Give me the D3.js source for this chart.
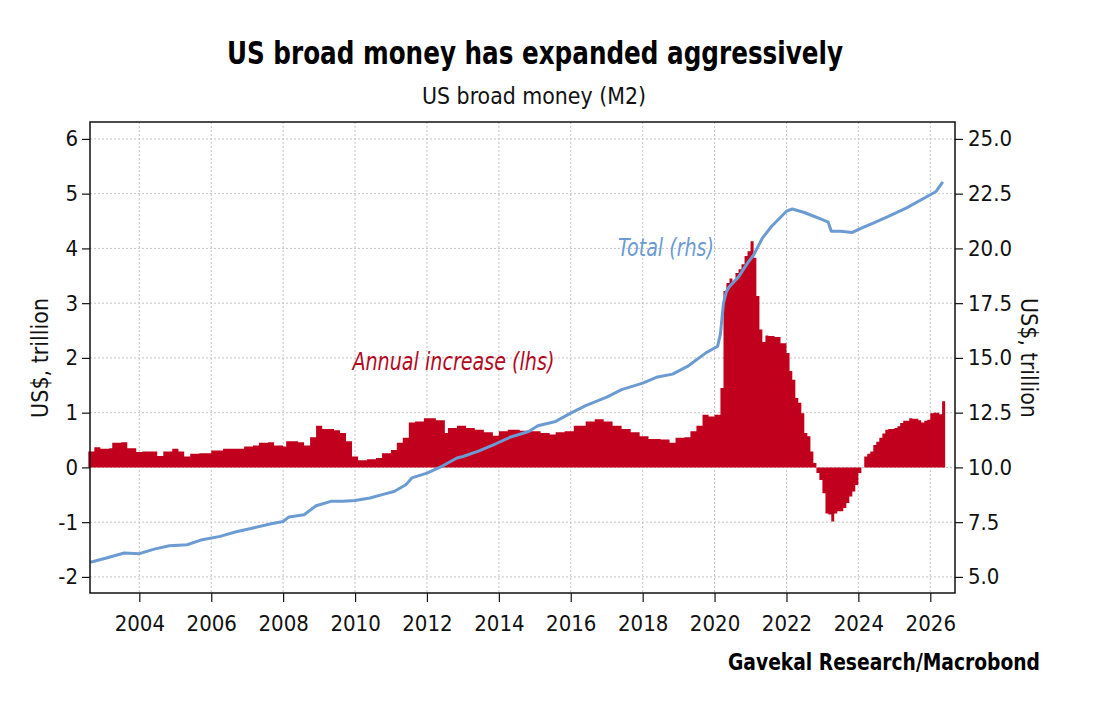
<!DOCTYPE html>
<html>
<head>
<meta charset="utf-8">
<script src="https://cdn.jsdelivr.net/npm/d3@7"></script>
<style>
    body { margin: 0; background: #ffffff; }
    svg { display: block; }
    text { font-family: "DejaVu Sans Condensed", "DejaVu Sans", sans-serif; font-stretch: condensed; }
</style>
</head>
<body>
<div id="chart"></div>
<script>
// ========================= DATA ==================================

// annual increase of M2, US$ trillion (lhs), step per month start
const barMonths = [
    '2002-08', '2002-10', '2002-12', '2003-03', '2003-04', '2003-07', '2003-09', '2003-12',
    '2004-02', '2004-07', '2004-09', '2004-12', '2005-02', '2005-04', '2005-06', '2005-09',
    '2006-01', '2006-05', '2006-12', '2007-03', '2007-05', '2007-08', '2007-10', '2008-01',
    '2008-02', '2008-06', '2008-08', '2008-10', '2008-12', '2009-02', '2009-06', '2009-08',
    '2009-10', '2009-12', '2010-02', '2010-05', '2010-08', '2010-10', '2011-01', '2011-03',
    '2011-05', '2011-07', '2011-09', '2011-12', '2012-04', '2012-07', '2012-08', '2012-11',
    '2013-02', '2013-05', '2013-08', '2013-11', '2014-01', '2014-04', '2014-08', '2014-11',
    '2015-03', '2015-06', '2015-08', '2015-11', '2016-02', '2016-06', '2016-09', '2016-12',
    '2017-03', '2017-06', '2017-09', '2017-12', '2018-03', '2018-07', '2018-10', '2018-12',
    '2019-03', '2019-05', '2019-07', '2019-09', '2019-11', '2020-01', '2020-03', '2020-04',
    '2020-05', '2020-06', '2020-07', '2020-08', '2020-09', '2020-10', '2020-11', '2020-12',
    '2021-01', '2021-02', '2021-03', '2021-04', '2021-05', '2021-06', '2021-07', '2021-09',
    '2021-11', '2022-01', '2022-02', '2022-03', '2022-04', '2022-05', '2022-06', '2022-07',
    '2022-08', '2022-09', '2022-10', '2022-11', '2022-12', '2023-01', '2023-02', '2023-03',
    '2023-04', '2023-05', '2023-06', '2023-07', '2023-08', '2023-09', '2023-10', '2023-11',
    '2023-12', '2024-01', '2024-02', '2024-03', '2024-04', '2024-05', '2024-06', '2024-07',
    '2024-08', '2024-09', '2024-10', '2024-11', '2024-12', '2025-01', '2025-02', '2025-03',
    '2025-04', '2025-05', '2025-06', '2025-07', '2025-08', '2025-09', '2025-10', '2025-11',
    '2025-12', '2026-01', '2026-02', '2026-03', '2026-04', '2026-05'
];
const barValues = [
    0.29, 0.37, 0.34, 0.35, 0.45, 0.46, 0.35, 0.28,
    0.29, 0.21, 0.29, 0.34, 0.29, 0.20, 0.25, 0.26,
    0.31, 0.34, 0.38, 0.40, 0.45, 0.46, 0.40, 0.38,
    0.48, 0.46, 0.40, 0.55, 0.76, 0.70, 0.68, 0.63,
    0.48, 0.20, 0.13, 0.15, 0.17, 0.26, 0.32, 0.45,
    0.54, 0.82, 0.84, 0.90, 0.86, 0.63, 0.72, 0.76,
    0.72, 0.69, 0.64, 0.58, 0.66, 0.69, 0.67, 0.66,
    0.63, 0.60, 0.64, 0.66, 0.76, 0.84, 0.88, 0.84,
    0.76, 0.70, 0.64, 0.57, 0.52, 0.51, 0.45, 0.54,
    0.55, 0.66, 0.76, 0.96, 0.93, 0.96, 1.45, 3.22,
    3.37, 3.45, 3.40, 3.55, 3.62, 3.71, 3.86, 3.95,
    4.13, 3.83, 3.13, 2.52, 2.29, 2.41, 2.40, 2.38,
    2.27, 2.09, 1.76, 1.60, 1.27, 1.18, 0.99, 0.63,
    0.57, 0.29, 0.08, -0.10, -0.23, -0.47, -0.84, -0.86,
    -0.99, -0.84, -0.80, -0.80, -0.74, -0.65, -0.53, -0.44,
    -0.32, -0.10, 0.00, 0.20, 0.25, 0.29, 0.41, 0.47,
    0.54, 0.62, 0.69, 0.70, 0.70, 0.72, 0.75, 0.81,
    0.85, 0.85, 0.90, 0.89, 0.89, 0.86, 0.82, 0.85,
    0.87, 0.99, 1.00, 1.00, 0.97, 1.21
];
const barEndMonth = '2026-06';

// total M2, US$ trillion (rhs)
const lineMonths = [
    '2002-09', '2003-02', '2003-08', '2004-01', '2004-06', '2004-11', '2005-05', '2005-10',
    '2006-04', '2006-09', '2007-03', '2007-09', '2008-01', '2008-03', '2008-08', '2008-12',
    '2009-05', '2009-09', '2010-01', '2010-06', '2010-11', '2011-02', '2011-06', '2011-08',
    '2012-01', '2012-06', '2012-11', '2013-01', '2013-06', '2013-12', '2014-05', '2014-11',
    '2015-02', '2015-08', '2016-01', '2016-06', '2017-01', '2017-06', '2018-01', '2018-06',
    '2018-11', '2019-04', '2019-10', '2020-01', '2020-02', '2020-03', '2020-04', '2020-05',
    '2020-06', '2020-09', '2020-12', '2021-02', '2021-05', '2021-08', '2022-01', '2022-03',
    '2022-07', '2023-01', '2023-03', '2023-04', '2023-07', '2023-11', '2024-02', '2024-06',
    '2024-11', '2025-05', '2025-10', '2026-03', '2026-05'
];
const lineValues = [
    5.68, 5.86, 6.09, 6.06, 6.27, 6.42, 6.47, 6.70,
    6.85, 7.05, 7.23, 7.43, 7.53, 7.74, 7.84, 8.25,
    8.45, 8.45, 8.49, 8.60, 8.79, 8.90, 9.21, 9.52,
    9.74, 10.05, 10.43, 10.50, 10.73, 11.08, 11.39, 11.64,
    11.90, 12.10, 12.48, 12.82, 13.21, 13.55, 13.85, 14.13,
    14.26, 14.61, 15.22, 15.45, 15.53, 16.10, 17.50, 18.04,
    18.26, 18.70, 19.33, 19.70, 20.47, 21.00, 21.70, 21.80,
    21.64, 21.31, 21.20, 20.78, 20.78, 20.73, 20.93, 21.16,
    21.46, 21.84, 22.22, 22.60, 22.99
];

const leftTicks = [-2, -1, 0, 1, 2, 3, 4, 5, 6];
const rightTicks = [5.0, 7.5, 10.0, 12.5, 15.0, 17.5, 20.0, 22.5, 25.0];
const yearTicks = [2004, 2006, 2008, 2010, 2012, 2014, 2016, 2018, 2020, 2022, 2024, 2026];

const titleText = 'US broad money has expanded aggressively';
const subtitleText = 'US broad money (M2)';
const axisTitle = 'US$, trillion';
const barLabel = 'Annual increase (lhs)';
const lineLabel = 'Total (rhs)';
const sourceText = 'Gavekal Research/Macrobond';

// ========================= CHART ==================================

const W = 1110, H = 718;
const margin = { left: 90, top: 122, right: 155, bottom: 125 };
const width = W - margin.left - margin.right;
const height = H - margin.top - margin.bottom;

const RED = '#c0001d';
const BLUE = '#6b9bd1';

const parseMonth = d3.timeParse('%Y-%m');

const svg = d3.select('#chart').append('svg')
    .attr('width', W)
    .attr('height', H);

const x = d3.scaleTime()
    .domain([new Date(2002, 7, 18), new Date(2026, 8, 9)])
    .range([0, width]);

const yL = d3.scaleLinear().domain([-2.294, 6.309]).range([height, 0]);
const yR = d3.scaleLinear().domain([10 - 2.5 * 2.294, 10 + 2.5 * 6.309]).range([height, 0]);

const plot = svg.append('g').attr('transform', `translate(${margin.left}, ${margin.top})`);

// grid
plot.append('g').selectAll('line')
    .data(leftTicks)
    .enter().append('line')
    .attr('x1', 0).attr('x2', width)
    .attr('y1', d => yL(d)).attr('y2', d => yL(d))
    .attr('stroke', '#c4c4c4')
    .attr('stroke-width', 1)
    .attr('stroke-dasharray', '2,2');

plot.append('g').selectAll('line')
    .data(yearTicks)
    .enter().append('line')
    .attr('x1', d => x(new Date(d, 0, 1))).attr('x2', d => x(new Date(d, 0, 1)))
    .attr('y1', 0).attr('y2', height)
    .attr('stroke', '#c4c4c4')
    .attr('stroke-width', 1)
    .attr('stroke-dasharray', '2,2');

// bars as a stepped area
const barData = barMonths.map((m, i) => ({ date: parseMonth(m), value: barValues[i] }));
barData.push({ date: parseMonth(barEndMonth), value: barValues[barValues.length - 1] });

const area = d3.area()
    .curve(d3.curveStepAfter)
    .x(d => x(d.date))
    .y0(yL(0))
    .y1(d => yL(d.value));

plot.append('path')
    .datum(barData)
    .attr('d', area)
    .attr('fill', RED);

// total line
const lineData = lineMonths.map((m, i) => ({ date: parseMonth(m), value: lineValues[i] }));

const line = d3.line()
    .x(d => x(d.date))
    .y(d => yR(d.value));

plot.append('path')
    .datum(lineData)
    .attr('d', line)
    .attr('fill', 'none')
    .attr('stroke', BLUE)
    .attr('stroke-width', 3)
    .attr('stroke-linejoin', 'round')
    .attr('stroke-linecap', 'round');

// frame
plot.append('rect')
    .attr('width', width)
    .attr('height', height)
    .attr('fill', 'none')
    .attr('stroke', '#111')
    .attr('stroke-width', 1.5);

// axes
const fontSize = '22px';

const styleAxis = g => {
    g.select('.domain').remove();
    g.selectAll('.tick line').attr('stroke', '#111').attr('stroke-width', 1.2);
    g.selectAll('.tick text').attr('fill', '#111');
    g.attr('font-family', null).attr('font-size', fontSize);
};

plot.append('g')
    .attr('class', 'axis y left')
    .call(d3.axisLeft(yL).tickValues(leftTicks).tickSize(8).tickPadding(4).tickFormat(d => String(d)))
    .call(styleAxis);

plot.append('g')
    .attr('class', 'axis y right')
    .attr('transform', `translate(${width}, 0)`)
    .call(d3.axisRight(yR).tickValues(rightTicks).tickSize(8).tickPadding(5).tickFormat(d3.format('.1f')))
    .call(styleAxis);

plot.append('g')
    .attr('class', 'axis x')
    .attr('transform', `translate(0, ${height})`)
    .call(d3.axisBottom(x).tickValues(yearTicks.map(d => new Date(d, 0, 1))).tickSize(9).tickPadding(13).tickFormat(d3.timeFormat('%Y')))
    .call(styleAxis);

// axis titles
svg.append('text')
    .attr('transform', `translate(48, ${margin.top + yL(2)}) rotate(-90)`)
    .attr('text-anchor', 'middle')
    .attr('font-size', '23px')
    .attr('fill', '#111')
    .text(axisTitle);

svg.append('text')
    .attr('transform', `translate(1021, ${margin.top + yL(2)}) rotate(90)`)
    .attr('text-anchor', 'middle')
    .attr('font-size', '23px')
    .attr('fill', '#111')
    .text(axisTitle);

// series labels
plot.append('text')
    .attr('x', x(new Date(2009, 11, 5)))
    .attr('y', yL(1.78))
    .attr('font-size', '24px')
    .attr('font-style', 'italic')
    .attr('textLength', 202)
    .attr('lengthAdjust', 'spacingAndGlyphs')
    .attr('fill', '#b3091f')
    .text(barLabel);

plot.append('text')
    .attr('x', x(new Date(2017, 3, 25)))
    .attr('y', yL(3.86))
    .attr('font-size', '24px')
    .attr('font-style', 'italic')
    .attr('textLength', 96)
    .attr('lengthAdjust', 'spacingAndGlyphs')
    .attr('fill', BLUE)
    .text(lineLabel);

// titles
svg.append('text')
    .attr('x', 535)
    .attr('y', 64)
    .attr('text-anchor', 'middle')
    .attr('font-size', '32px')
    .attr('font-weight', 'bold')
    .attr('textLength', 616)
    .attr('lengthAdjust', 'spacingAndGlyphs')
    .attr('fill', '#000')
    .text(titleText);

svg.append('text')
    .attr('x', 534)
    .attr('y', 104)
    .attr('text-anchor', 'middle')
    .attr('font-size', '23px')
    .attr('textLength', 224)
    .attr('lengthAdjust', 'spacingAndGlyphs')
    .attr('fill', '#111')
    .text(subtitleText);

svg.append('text')
    .attr('x', 1040)
    .attr('y', 670)
    .attr('text-anchor', 'end')
    .attr('font-size', '23px')
    .attr('font-weight', 'bold')
    .attr('textLength', 312)
    .attr('lengthAdjust', 'spacingAndGlyphs')
    .attr('fill', '#000')
    .text(sourceText);
</script>
</body>
</html>
